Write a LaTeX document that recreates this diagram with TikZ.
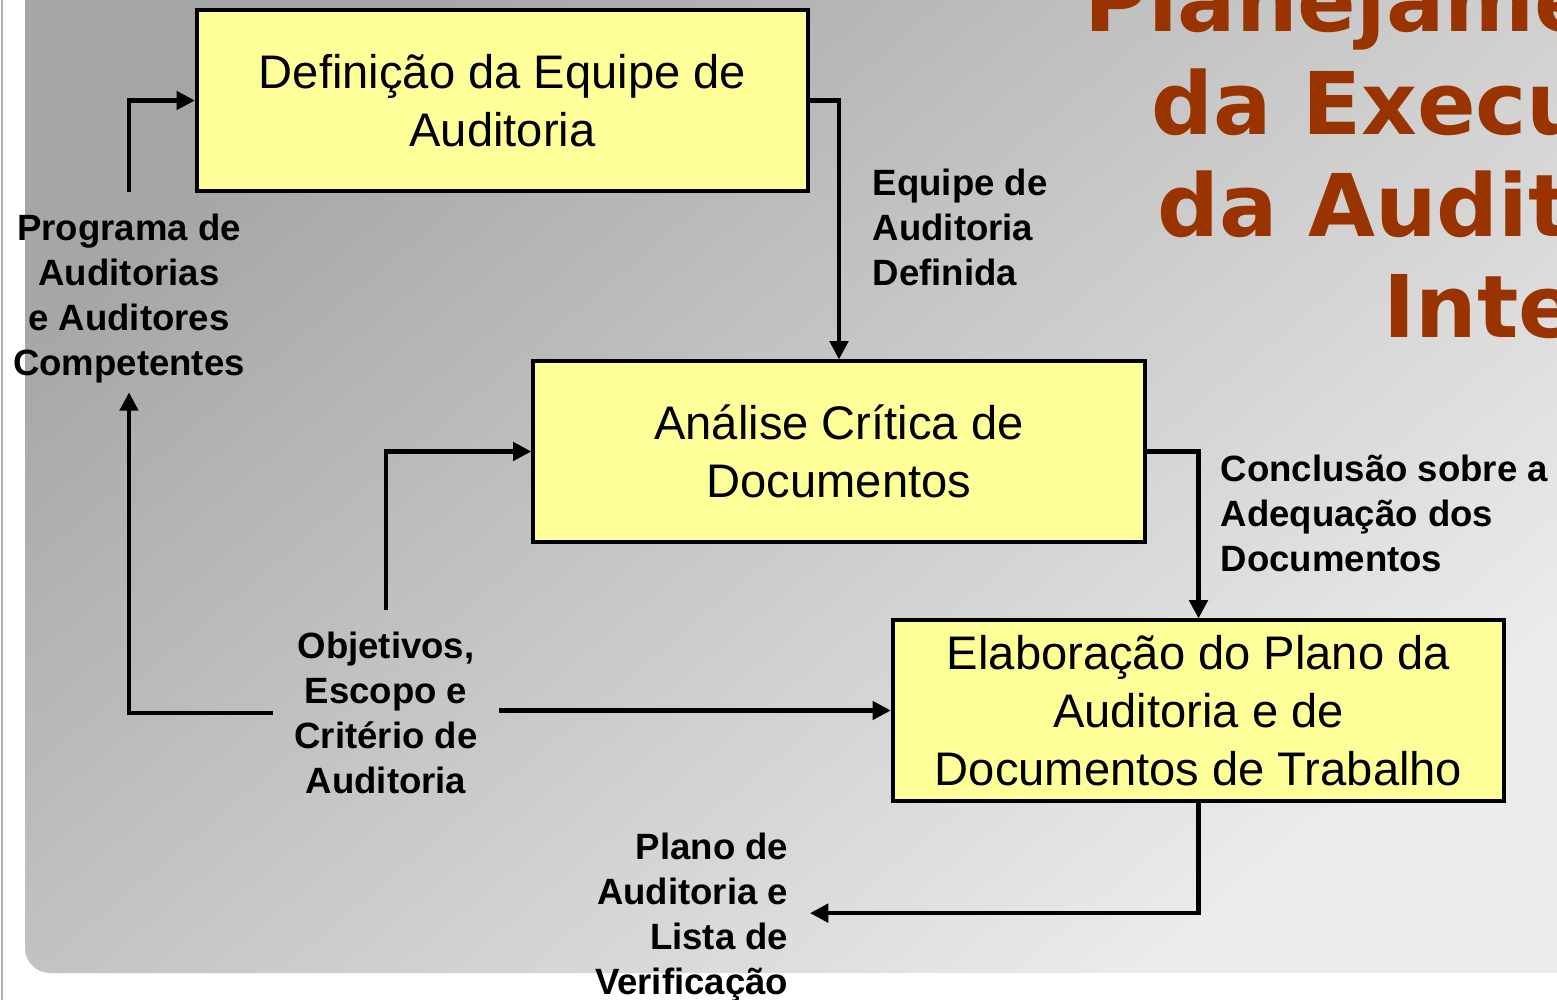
\documentclass[tikz,border=0pt]{standalone}
\usepackage{fontspec}
\setmainfont{Liberation Sans}
\newfontfamily\titlefont{DejaVu Sans}
\usetikzlibrary{arrows.meta}

\definecolor{caixaamarela}{RGB}{255,255,153}
\definecolor{tituloterra}{RGB}{153,51,0}
\definecolor{fundoescuro}{RGB}{166,166,166}
\definecolor{fundoclaro}{RGB}{236,236,236}

\begin{document}
\begin{tikzpicture}[
    x=0.01cm, y=0.01cm,
    seta/.style={line width=1.15pt, -{Triangle[length=5.2pt,width=5.2pt]}}, % setas pretas
    caixa/.style={draw, line width=1.15pt, fill=caixaamarela, minimum width=6.11cm,
        minimum height=1.8cm, align=center, inner sep=0pt,
        font=\fontsize{13.4}{16.4}\selectfont},
    rotulo/.style={inner sep=6pt, font=\fontsize{10.4}{12.8}\selectfont\bfseries}
]
\useasboundingbox (0,0) rectangle (1557,1000);
\clip (0,0) rectangle (1557,1000);

% ========== fundo ==========
\fill[white] (0,0) rectangle (1557,1000);
\draw[gray!60, line width=0.6pt] (2,0) -- (2,1000);
\shade[top color=fundoescuro, bottom color=fundoclaro, shading angle=40]
    (25,1000) -- (25,52) arc[start angle=180, end angle=270, radius=0.25cm]
    -- (1557,27) -- (1557,1000) -- cycle;

% ========== titulo ==========
\foreach \txt/\x/\y [count=\i] in {Planejamento/1084/968, da Execução/1151/865,
                                   da Auditoria/1157/763, Interna/1383/662} {
    \node[anchor=base west, inner sep=0pt, text=tituloterra,
          font=\titlefont\bfseries\fontsize{24.6}{29}\selectfont] (titulo\i) at (\x,\y) {\txt};
}

% ========== caixas ==========
\node[caixa] (def) at (502.5,899.5) {Definição da Equipe de\\Auditoria};
\node[caixa] (anal) at (839,548.5) {Análise Crítica de\\Documentos};
\node[caixa] (elab) at (1198.5,289.5) {Elaboração do Plano da\\Auditoria e de\\Documentos de Trabalho};

% ========== rotulos ==========
\node[rotulo, align=center, anchor=north] (prog) at (129,808)
    {Programa de\\Auditorias\\e Auditores\\Competentes};
\node[rotulo, align=left, anchor=north west] (equipe) at (851,853)
    {Equipe de\\Auditoria\\Definida};
\node[rotulo, align=left, anchor=north west] (conc) at (1199,567)
    {Conclusão sobre a\\Adequação dos\\Documentos};
\node[rotulo, align=center, anchor=north] (obj) at (386,390)
    {Objetivos,\\Escopo e\\Critério de\\Auditoria};
\node[rotulo, align=right, anchor=north east] (plano) at (810,189)
    {Plano de\\Auditoria e\\Lista de\\Verificação};

% ========== setas ==========
\draw[seta] (prog.north) |- (def.west);
\draw[seta] (def.east) -| (anal.north);
\draw[seta] (obj.north) |- (anal.west);
\draw[seta] (obj.west) -| ([yshift=3.5pt]prog.south);
\draw[seta] (obj.east |- elab.west) -- (elab.west);
\draw[seta] (anal.east) -| (elab.north);
\draw[seta] (elab.south) |- ([yshift=1.2pt]plano.east);

\end{tikzpicture}
\end{document}
